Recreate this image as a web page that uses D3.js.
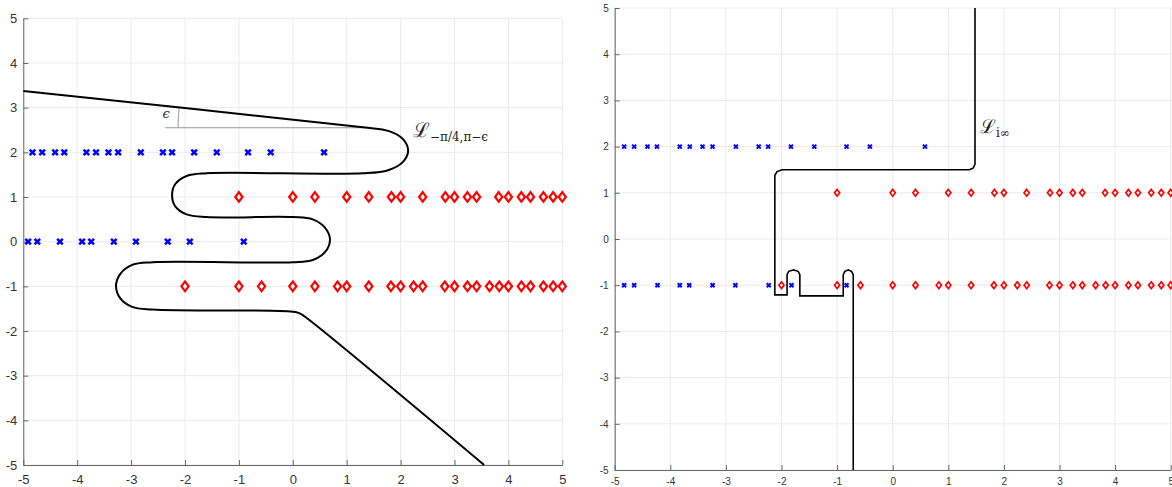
<!DOCTYPE html>
<html>
<head>
<meta charset="utf-8">
<script src="https://cdn.jsdelivr.net/npm/d3@7"></script>
<style>
  body { margin: 0; background: #fff; }
  svg { display: block; font-family: "Liberation Sans", Arial, sans-serif; }
</style>
</head>
<body>
<div id="chart"></div>
<script>
// tick values shared by both panels
const ticks = [-5, -4, -3, -2, -1, 0, 1, 2, 3, 4, 5];

// blue crosses (row y = 2 in both panels)
const blueTop = [-4.83, -4.65, -4.41, -4.24, -3.83, -3.65, -3.42, -3.24, -2.82, -2.41, -2.24, -1.83, -1.41, -0.83, -0.41, 0.58];
// lower blue row: left panel at y = 0, right panel at y = -1
const blueLowLeft = [-4.91, -4.74, -4.32, -3.91, -3.74, -3.32, -2.91, -2.32, -1.91, -0.91];
const blueLowRight = [-4.83, -4.65, -4.23, -3.83, -3.66, -3.24, -2.83, -2.23, -1.82, -0.83];

// red diamonds, rows y = 1 and y = -1
const redUpper = [-1, 0, 0.41, 1, 1.41, 1.83, 2, 2.41, 2.83, 3, 3.24, 3.41, 3.82, 4, 4.24, 4.41, 4.65, 4.83, 5];
const redLower = [-2, -1, -0.58, 0, 0.41, 0.83, 1, 1.41, 1.82, 2, 2.24, 2.41, 2.82, 3, 3.24, 3.41, 3.65, 3.83, 4, 4.24, 4.41, 4.65, 4.83, 5];

// contour L_{-pi/4, pi-eps} (left panel)
const contourLeft = [
  [-5, 3.37], [1.3, 2.56], [1.77, 2.48], [2.04, 2.3], [2.14, 2.04], [2.04, 1.78], [1.77, 1.6], [1.3, 1.53],
  [-1.6, 1.53], [-1.97, 1.47], [-2.18, 1.29], [-2.24, 1.04], [-2.18, 0.79], [-1.97, 0.61], [-1.6, 0.55],
  [0.0, 0.55], [0.37, 0.5], [0.6, 0.31], [0.69, 0.05], [0.6, -0.23], [0.37, -0.41], [0.0, -0.46],
  [-2.6, -0.46], [-2.98, -0.52], [-3.2, -0.72], [-3.28, -0.99], [-3.2, -1.27], [-2.98, -1.46], [-2.6, -1.52],
  [-0.1, -1.56], [0.12, -1.6], [0.3, -1.75], [3.55, -5]
];
// epsilon marker: horizontal reference from this x to the contour tip
const epsRefStart = -2.37;
const epsTip = [1.37, 2.55];

// contour L_{i inf} (right panel)
const contourRight = [
  [1.48, 5], [1.48, 1.62], [1.45, 1.54], [1.38, 1.5], [-1.99, 1.5], [-2.08, 1.46], [-2.12, 1.38],
  [-2.12, -1.21], [-1.9, -1.21], [-1.9, -0.77], [-1.87, -0.7], [-1.785, -0.67], [-1.7, -0.7], [-1.67, -0.77],
  [-1.67, -1.23], [-0.89, -1.23], [-0.89, -0.77], [-0.86, -0.7], [-0.8, -0.67], [-0.74, -0.7], [-0.71, -0.77],
  [-0.71, -5]
];

const width = 1172, height = 487;
const svg = d3.select("#chart").append("svg")
  .attr("width", width)
  .attr("height", height);

function drawPanel(cfg) {
  const x = d3.scaleLinear().domain([-5, 5]).range(cfg.xr);
  const y = d3.scaleLinear().domain([-5, 5]).range(cfg.yr);
  const g = svg.append("g");

  // grid
  g.append("g").selectAll("line").data(ticks).join("line")
    .attr("x1", d => x(d)).attr("x2", d => x(d))
    .attr("y1", cfg.yr[0]).attr("y2", cfg.yr[1])
    .attr("stroke", "#ebebeb").attr("stroke-width", 1);
  g.append("g").selectAll("line").data(ticks).join("line")
    .attr("y1", d => y(d)).attr("y2", d => y(d))
    .attr("x1", cfg.xr[0]).attr("x2", cfg.xr[1])
    .attr("stroke", "#ebebeb").attr("stroke-width", 1);

  // axes
  const xAxis = g.append("g")
    .attr("transform", `translate(0,${cfg.yr[0]})`)
    .call(d3.axisBottom(x).tickValues(ticks).tickFormat(d => String(d))
      .tickSizeInner(-5).tickSizeOuter(0).tickPadding(cfg.xPad));
  const yAxis = g.append("g")
    .attr("transform", `translate(${cfg.xr[0]},0)`)
    .call(d3.axisLeft(y).tickValues(ticks).tickFormat(d => String(d))
      .tickSizeInner(-5).tickSizeOuter(0).tickPadding(cfg.yPad));
  [xAxis, yAxis].forEach(a => {
    a.select(".domain").attr("stroke", "#666");
    a.selectAll(".tick line").attr("stroke", "#666");
    a.selectAll(".tick text")
      .attr("fill", "#333")
      .attr("font-size", cfg.font)
      .attr("font-family", "'Liberation Sans', Arial, sans-serif");
  });

  // annotation layer under the contour
  const under = g.append("g");

  // contour
  const line = d3.line().x(d => x(d[0])).y(d => y(d[1])).curve(cfg.curve);
  g.append("path").datum(cfg.contour)
    .attr("d", line)
    .attr("fill", "none")
    .attr("stroke", "#000")
    .attr("stroke-width", cfg.lw);

  // blue crosses
  const cs = cfg.cross;
  const crosses = cfg.blue.flatMap(r => r.xs.map(v => [v, r.y]));
  g.append("g").selectAll("path").data(crosses).join("path")
    .attr("transform", d => `translate(${x(d[0])},${y(d[1])})`)
    .attr("d", `M${-cs},${-cs}L${cs},${cs}M${-cs},${cs}L${cs},${-cs}`)
    .attr("stroke", "#0000ff")
    .attr("stroke-width", cfg.crossW)
    .attr("fill", "none");

  // red diamonds
  const [dw, dh] = cfg.diamond;
  const diamonds = cfg.red.flatMap(r => r.xs.map(v => [v, r.y]));
  g.append("g").selectAll("path").data(diamonds).join("path")
    .attr("transform", d => `translate(${x(d[0])},${y(d[1])})`)
    .attr("d", `M0,${-dh}L${dw},0L0,${dh}L${-dw},0Z`)
    .attr("stroke", "#ff0000")
    .attr("stroke-width", cfg.diamondW)
    .attr("fill", "#fff");

  return { g, under, x, y };
}

// left panel
const left = drawPanel({
  xr: [23.3, 562.3], yr: [465, 18.3],
  font: "13px", xPad: 10, yPad: 6,
  contour: contourLeft, curve: d3.curveCatmullRom.alpha(0.5), lw: 2,
  blue: [{ y: 2, xs: blueTop }, { y: 0, xs: blueLowLeft }],
  red: [{ y: 1, xs: redUpper }, { y: -1, xs: redLower }],
  cross: 2.8, crossW: 2.5, diamond: [3.6, 4.8], diamondW: 2.2
});

// epsilon angle annotation
{
  const { g, under, x, y } = left;
  const tx = x(epsTip[0]), ty = y(epsTip[1]);
  under.append("line")
    .attr("x1", x(epsRefStart)).attr("x2", tx)
    .attr("y1", ty).attr("y2", ty)
    .attr("stroke", "#999").attr("stroke-width", 1);
  const r = tx - x(epsRefStart) - 13;
  const ang = Math.atan2(ty - y(contourLeft[0][1]), tx - x(contourLeft[0][0]));
  const p0 = [tx - r, ty];
  const p1 = [tx - r * Math.cos(ang), ty - r * Math.sin(ang)];
  under.append("path")
    .attr("d", `M${p0[0]},${p0[1]}A${r},${r} 0 0 1 ${p1[0]},${p1[1]}`)
    .attr("fill", "none").attr("stroke", "#999").attr("stroke-width", 1);
  g.append("text")
    .attr("x", x(-2.35)).attr("y", y(2.84))
    .attr("text-anchor", "middle").attr("dominant-baseline", "middle")
    .attr("font-family", "'DejaVu Serif', serif").attr("font-style", "italic")
    .attr("font-size", "13px").attr("fill", "#333")
    .text("ϵ");

  const lab = g.append("text")
    .attr("x", x(2.23)).attr("y", y(2.35))
    .attr("font-family", "'DejaVu Serif', serif").attr("fill", "#222");
  lab.append("tspan").attr("font-size", "20px").text("ℒ");
  lab.append("tspan").attr("font-size", "12px").attr("dy", 4).text("−π/4,π−ϵ");
}

// right panel
const right = drawPanel({
  xr: [614.7, 1170.7], yr: [470, 8],
  font: "10px", xPad: 8, yPad: 6,
  contour: contourRight, curve: d3.curveLinear, lw: 1.6,
  blue: [{ y: 2, xs: blueTop }, { y: -1, xs: blueLowRight }],
  red: [{ y: 1, xs: redUpper }, { y: -1, xs: redLower }],
  cross: 2, crossW: 2, diamond: [2.6, 3.4], diamondW: 1.7
});

{
  const { g, x, y } = right;
  const lab = g.append("text")
    .attr("x", x(1.57)).attr("y", y(2.29))
    .attr("font-family", "'DejaVu Serif', serif").attr("fill", "#222");
  lab.append("tspan").attr("font-size", "19px").text("ℒ");
  lab.append("tspan").attr("font-size", "12px").attr("dy", 4).text("i∞");
}
</script>
</body>
</html>
